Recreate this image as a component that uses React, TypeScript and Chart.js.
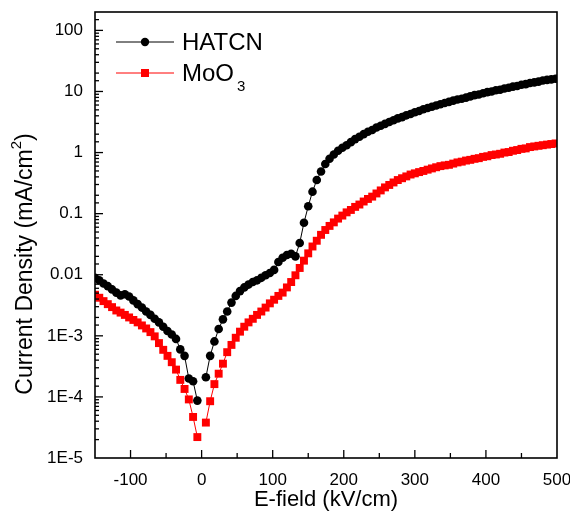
import React, { useEffect, useRef } from "react";
import { Chart, registerables } from "chart.js";

Chart.register(...registerables);

const E_FIELD = [
  -150, -144, -138, -132, -126, -120, -114, -108, -102, -96,
  -90, -84, -78, -72, -66, -60, -54, -48, -42, -36,
  -30, -24, -18, -12, -6, 0, 6, 12, 18, 24,
  30, 36, 42, 48, 54, 60, 66, 72, 78, 84,
  90, 96, 102, 108, 114, 120, 126, 132, 138, 144,
  150, 156, 162, 168, 174, 180, 186, 192, 198, 204,
  210, 216, 222, 228, 234, 240, 246, 252, 258, 264,
  270, 276, 282, 288, 294, 300, 306, 312, 318, 324,
  330, 336, 342, 348, 354, 360, 366, 372, 378, 384,
  390, 396, 402, 408, 414, 420, 426, 432, 438, 444,
  450, 456, 462, 468, 474, 480, 486, 492, 498,
];

const HATCN = [
  8.9e-3, 8.1e-3, 7.2e-3, 6.5e-3, 5.75e-3, 5.1e-3, 4.6e-3, 4.8e-3, 4.4e-3, 3.8e-3,
  3.3e-3, 2.9e-3, 2.5e-3, 2.2e-3, 1.9e-3, 1.66e-3, 1.41e-3, 1.2e-3, 1.05e-3, 8.9e-4,
  6.0e-4, 4.7e-4, 2.0e-4, 1.8e-4, 8.7e-5, null, 2.1e-4, 4.7e-4, 8.1e-4, 1.29e-3,
  1.86e-3, 2.5e-3, 3.5e-3, 4.5e-3, 5.4e-3, 6.2e-3, 6.9e-3, 7.6e-3, 8.1e-3, 8.9e-3,
  9.8e-3, 1.07e-2, 1.2e-2, 1.62e-2, 1.9e-2, 2.1e-2, 2.2e-2, 2.0e-2, 3.3e-2, 7.1e-2,
  0.132, 0.229, 0.355, 0.49, 0.65, 0.79, 0.93, 1.07, 1.2, 1.32,
  1.48, 1.66, 1.82, 2.0, 2.19, 2.34, 2.57, 2.75, 2.95, 3.16,
  3.39, 3.63, 3.8, 4.07, 4.27, 4.57, 4.79, 5.13, 5.37, 5.62,
  5.89, 6.17, 6.46, 6.76, 7.08, 7.41, 7.59, 7.94, 8.32, 8.71,
  8.91, 9.33, 9.77, 10.0, 10.5, 10.7, 11.2, 11.5, 12.0, 12.3,
  12.9, 13.2, 13.8, 14.1, 14.5, 15.1, 15.5, 15.8, 16.2,
];

const MOO3 = [
  4.7e-3, 4.2e-3, 3.7e-3, 3.3e-3, 2.95e-3, 2.6e-3, 2.4e-3, 2.2e-3, 2.0e-3, 1.82e-3,
  1.66e-3, 1.48e-3, 1.32e-3, 1.15e-3, 9.8e-4, 7.6e-4, 5.9e-4, 4.7e-4, 3.7e-4, 2.8e-4,
  1.9e-4, 1.35e-4, 9.1e-5, 4.7e-5, 2.2e-5, null, 3.8e-5, 8.5e-5, 1.62e-4, 2.4e-4,
  3.5e-4, 5.4e-4, 7.1e-4, 9.3e-4, 1.17e-3, 1.41e-3, 1.66e-3, 1.9e-3, 2.2e-3, 2.5e-3,
  2.9e-3, 3.4e-3, 3.9e-3, 4.5e-3, 5.1e-3, 6.2e-3, 7.6e-3, 9.8e-3, 1.29e-2, 1.7e-2,
  2.24e-2, 2.9e-2, 3.6e-2, 4.5e-2, 5.4e-2, 6.3e-2, 7.2e-2, 8.3e-2, 9.3e-2, 0.105,
  0.115, 0.129, 0.141, 0.158, 0.174, 0.19, 0.214, 0.24, 0.269, 0.295,
  0.324, 0.355, 0.38, 0.407, 0.437, 0.457, 0.479, 0.5, 0.525, 0.55,
  0.575, 0.6, 0.617, 0.63, 0.66, 0.69, 0.71, 0.74, 0.76, 0.79,
  0.81, 0.85, 0.87, 0.91, 0.93, 0.955, 1.0, 1.02, 1.07, 1.1,
  1.15, 1.17, 1.23, 1.26, 1.29, 1.32, 1.35, 1.38, 1.41,
];

const SERIES_NAMES = ["HATCN", "MoO"];
const X_TITLE = "E-field (kV/cm)";
const Y_TITLE = "Current Density (mA/cm";
const Y_TICK_LABELS: Record<string, string> = {
  "2": "100",
  "1": "10",
  "0": "1",
  "-1": "0.1",
  "-2": "0.01",
  "-3": "1E-3",
  "-4": "1E-4",
  "-5": "1E-5",
};

const FONT = '"Liberation Sans", Arial, sans-serif';

const isDecade = (v: number) => {
  const e = Math.log10(v);
  return Math.abs(e - Math.round(e)) < 1e-6;
};

const decorPlugin = {
  id: "decor",
  afterDraw(chart: any) {
    const { ctx, chartArea: a, scales } = chart;
    const xs = scales.x;
    const ys = scales.y;
    ctx.save();
    ctx.strokeStyle = "#000";
    ctx.lineWidth = 1.6;
    ctx.strokeRect(a.left, a.top, a.right - a.left, a.bottom - a.top);

    ctx.lineWidth = 1.3;
    xs.ticks.forEach((t: any) => {
      const px = xs.getPixelForValue(t.value);
      if (px <= a.left + 1 || px >= a.right - 1) return;
      const len = t.value % 100 === 0 ? 8 : 5;
      ctx.beginPath();
      ctx.moveTo(px, a.bottom);
      ctx.lineTo(px, a.bottom - len);
      ctx.stroke();
    });
    ys.ticks.forEach((t: any) => {
      const py = ys.getPixelForValue(t.value);
      if (py <= a.top + 1 || py >= a.bottom - 1) return;
      const len = isDecade(t.value) ? 8 : 4;
      ctx.beginPath();
      ctx.moveTo(a.left, py);
      ctx.lineTo(a.left + len, py);
      ctx.stroke();
    });

    // Legend
    ctx.lineWidth = 1;
    ctx.strokeStyle = "#000";
    ctx.beginPath();
    ctx.moveTo(116, 42);
    ctx.lineTo(174, 42);
    ctx.stroke();
    ctx.fillStyle = "#000";
    ctx.beginPath();
    ctx.arc(145, 42, 4.2, 0, Math.PI * 2);
    ctx.fill();
    ctx.strokeStyle = "#ff0000";
    ctx.beginPath();
    ctx.moveTo(116, 73);
    ctx.lineTo(174, 73);
    ctx.stroke();
    ctx.fillStyle = "#ff0000";
    ctx.fillRect(141, 69, 8, 8);

    ctx.fillStyle = "#000";
    ctx.font = `24px ${FONT}`;
    ctx.textAlign = "left";
    ctx.textBaseline = "alphabetic";
    ctx.fillText(SERIES_NAMES[0], 182, 50);
    ctx.fillText(SERIES_NAMES[1], 182, 81);
    const w = ctx.measureText(SERIES_NAMES[1]).width;
    ctx.font = `15px ${FONT}`;
    ctx.fillText("3", 182 + w + 3, 91);

    // X title
    ctx.font = `22px ${FONT}`;
    ctx.textAlign = "center";
    ctx.textBaseline = "middle";
    ctx.fillText(X_TITLE, (a.left + a.right) / 2, 500);

    // Y title with superscript
    ctx.save();
    ctx.translate(26, 264);
    ctx.rotate(-Math.PI / 2);
    ctx.textAlign = "left";
    ctx.textBaseline = "middle";
    ctx.font = `23px ${FONT}`;
    const w1 = ctx.measureText(Y_TITLE).width;
    ctx.font = `15px ${FONT}`;
    const w2 = ctx.measureText("2").width;
    ctx.font = `23px ${FONT}`;
    const w3 = ctx.measureText(")").width;
    const start = -(w1 + w2 + w3) / 2;
    ctx.fillText(Y_TITLE, start, 0);
    ctx.font = `15px ${FONT}`;
    ctx.fillText("2", start + w1, -9);
    ctx.font = `23px ${FONT}`;
    ctx.fillText(")", start + w1 + w2, 0);
    ctx.restore();

    ctx.restore();
  },
};

export default function App() {
  const ref = useRef<HTMLCanvasElement | null>(null);
  useEffect(() => {
    if (!ref.current) return;
    const toPts = (arr: (number | null)[]) =>
      E_FIELD.map((x, i) => ({ x, y: arr[i] }));
    const chart = new Chart(ref.current, {
      type: "line",
      data: {
        datasets: [
          {
            label: "HATCN",
            data: toPts(HATCN) as any,
            borderColor: "#000",
            backgroundColor: "#000",
            borderWidth: 1,
            pointStyle: "circle",
            pointRadius: 4.3,
            pointBorderWidth: 0,
            tension: 0,
            spanGaps: false,
          },
          {
            label: "MoO3",
            data: toPts(MOO3) as any,
            borderColor: "#ff0000",
            backgroundColor: "#ff0000",
            borderWidth: 1,
            pointStyle: "rect",
            pointRadius: 5.6,
            pointBorderWidth: 0,
            tension: 0,
            spanGaps: false,
          },
        ],
      },
      options: {
        animation: false,
        responsive: false,
        devicePixelRatio: 1,
        layout: { padding: { left: 0, top: 12, right: 13, bottom: 0 } },
        plugins: { legend: { display: false }, tooltip: { enabled: false } },
        scales: {
          x: {
            type: "linear",
            min: -150,
            max: 500,
            grid: { display: false, drawTicks: false },
            border: { display: false },
            ticks: {
              stepSize: 50,
              autoSkip: false,
              maxRotation: 0,
              padding: 12,
              color: "#000",
              font: { family: FONT, size: 17 },
              callback: (v: any) => (Number(v) % 100 === 0 ? String(v) : ""),
            },
            afterFit: (s: any) => {
              s.height = 61;
              s.paddingLeft = 0;
              s.paddingRight = 0;
            },
          },
          y: {
            type: "logarithmic",
            min: 1e-5,
            max: 200,
            grid: { display: false, drawTicks: false },
            border: { display: false },
            ticks: {
              autoSkip: false,
              padding: 12,
              color: "#000",
              font: { family: FONT, size: 17 },
              callback: (v: any) => {
                const n = Number(v);
                if (!isDecade(n)) return "";
                return Y_TICK_LABELS[String(Math.round(Math.log10(n)))] ?? "";
              },
            },
            afterFit: (s: any) => {
              s.width = 95;
              s.paddingTop = 0;
              s.paddingBottom = 0;
            },
          },
        },
      },
      plugins: [decorPlugin],
    });
    return () => chart.destroy();
  }, []);
  return (
    <div style={{ position: "absolute", left: 0, top: 0, width: 570, height: 519, background: "#fff" }}>
      <canvas ref={ref} width={570} height={519} style={{ width: 570, height: 519 }} />
    </div>
  );
}
